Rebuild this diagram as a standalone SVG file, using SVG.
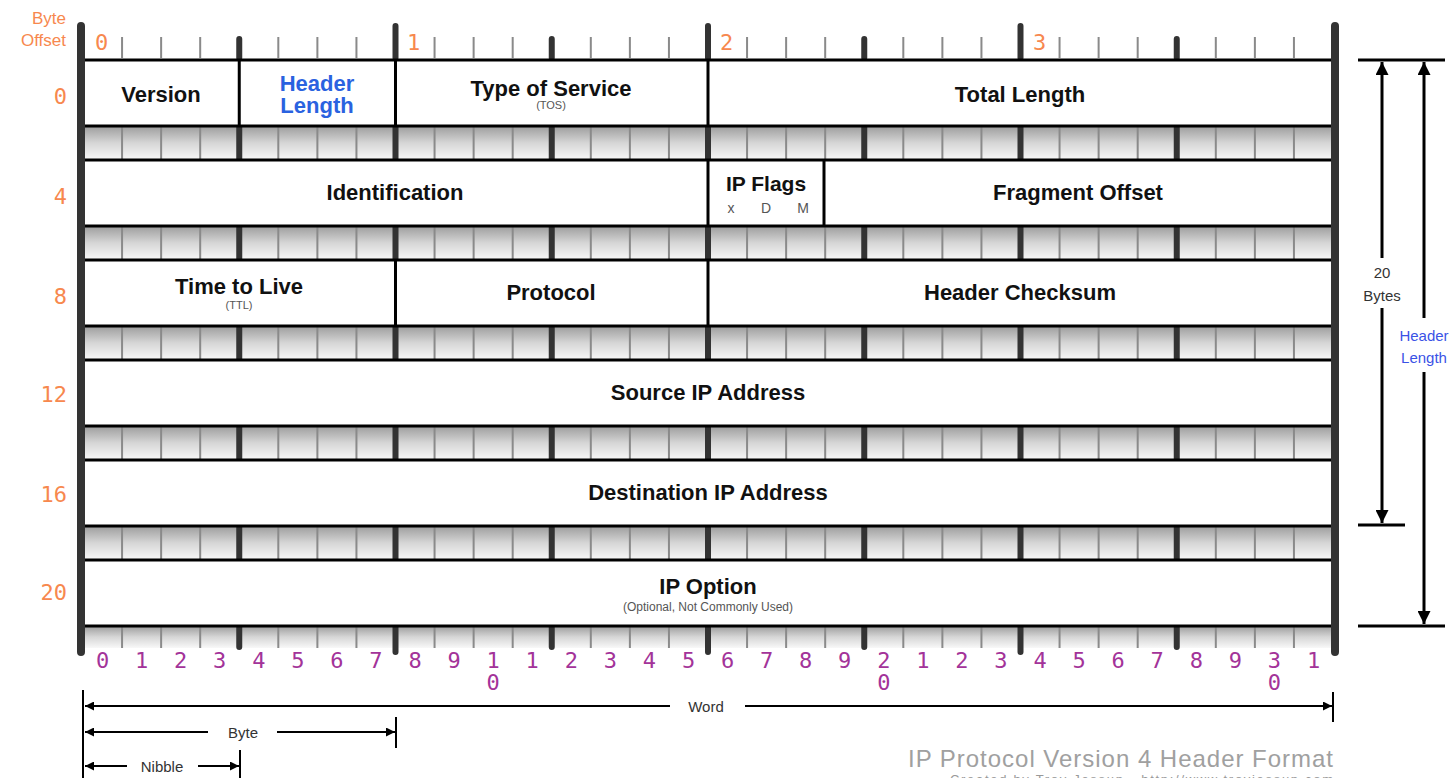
<svg xmlns="http://www.w3.org/2000/svg" width="1455" height="778" viewBox="0 0 1455 778">
<style>
.lbl{font-family:"Liberation Sans",Arial,sans-serif;font-weight:bold;font-size:22px;fill:#111;text-anchor:middle}
.blue{fill:#2a62e0}
.sub{font-family:"Liberation Sans",Arial,sans-serif;font-size:11px;fill:#555;text-anchor:middle}
.off{font-family:"DejaVu Sans Mono",monospace;font-size:22px;fill:#f7884e}
.bo{font-family:"Liberation Sans",Arial,sans-serif;font-size:17px;fill:#f7884e;text-anchor:end}
.bit{font-family:"DejaVu Sans Mono",monospace;font-size:22px;fill:#a33399;text-anchor:middle}
.cap{font-family:"Liberation Sans",Arial,sans-serif;font-size:15px;fill:#333;text-anchor:middle}
.box{fill:#fff;stroke:#000;stroke-width:3}
.div{stroke:#000;stroke-width:3}
.thin{stroke:#8a8a8a;stroke-width:2;fill:none}
.thick{stroke:#333;stroke-width:6;fill:none;stroke-linecap:round}
.bar{stroke:#333;stroke-width:8;fill:none;stroke-linecap:round}
.ln{stroke:#000;stroke-width:2;fill:none}
.ln3{stroke:#000;stroke-width:3;fill:none}
</style>
<defs>
<linearGradient id="fg" x1="0" y1="0" x2="0" y2="1">
<stop offset="0" stop-color="#9c9c9c"/>
<stop offset="0.5" stop-color="#d6d6d6"/>
<stop offset="1" stop-color="#f8f8f8"/>
</linearGradient>
<marker id="ah" viewBox="0 0 10 10" refX="10" refY="5" markerWidth="11" markerHeight="9" markerUnits="userSpaceOnUse" orient="auto"><path d="M0,0 L10,5 L0,10 z" fill="#000"/></marker>
<marker id="ahb" viewBox="0 0 10 10" refX="10" refY="5" markerWidth="15" markerHeight="13" markerUnits="userSpaceOnUse" orient="auto"><path d="M0,0 L10,5 L0,10 z" fill="#000"/></marker>
<g id="filler">
<rect x="83" y="0" width="1250" height="34" fill="url(#fg)"/>
<path class="thin" d="M122.06 0V34M161.13 0V34M200.19 0V34M278.31 0V34M317.38 0V34M356.44 0V34M434.56 0V34M473.63 0V34M512.69 0V34M590.81 0V34M629.88 0V34M668.94 0V34M747.06 0V34M786.13 0V34M825.19 0V34M903.31 0V34M942.38 0V34M981.44 0V34M1059.56 0V34M1098.63 0V34M1137.69 0V34M1215.81 0V34M1254.88 0V34M1293.94 0V34"/>
<path d="M239.25 0V34M395.5 0V34M551.75 0V34M708 0V34M864.25 0V34M1020.5 0V34M1176.75 0V34" stroke="#333" stroke-width="6"/>
</g>
</defs>

<g id="top-ruler">
<text class="bo" x="66" y="24">Byte</text>
<text class="bo" x="66" y="46">Offset</text>
<path class="thin" d="M122.06 37V58M161.13 37V58M200.19 37V58M278.31 37V58M317.38 37V58M356.44 37V58M434.56 37V58M473.63 37V58M512.69 37V58M590.81 37V58M629.88 37V58M668.94 37V58M747.06 37V58M786.13 37V58M825.19 37V58M903.31 37V58M942.38 37V58M981.44 37V58M1059.56 37V58M1098.63 37V58M1137.69 37V58M1215.81 37V58M1254.88 37V58M1293.94 37V58"/>
<path class="thick" d="M239.25 39V58M551.75 39V58M864.25 39V58M1176.75 39V58"/>
<path class="thick" d="M395.5 26V58M708 26V58M1020.5 26V58"/>
<text class="off" x="95" y="50">0</text>
<text class="off" x="407" y="50">1</text>
<text class="off" x="720" y="50">2</text>
<text class="off" x="1033" y="50">3</text>
</g>

<g id="fillers">
<use href="#filler" y="126"/>
<use href="#filler" y="226"/>
<use href="#filler" y="326"/>
<use href="#filler" y="426"/>
<use href="#filler" y="526"/>
</g>

<g id="bottom-ruler">
<rect x="83" y="626" width="1250" height="22" fill="url(#fg)"/>
<path class="thin" d="M122.06 626V648M161.13 626V648M200.19 626V648M278.31 626V648M317.38 626V648M356.44 626V648M434.56 626V648M473.63 626V648M512.69 626V648M590.81 626V648M629.88 626V648M668.94 626V648M747.06 626V648M786.13 626V648M825.19 626V648M903.31 626V648M942.38 626V648M981.44 626V648M1059.56 626V648M1098.63 626V648M1137.69 626V648M1215.81 626V648M1254.88 626V648M1293.94 626V648"/>
<path class="thick" d="M239.25 626V647M551.75 626V647M864.25 626V647M1176.75 626V647"/>
<path class="thick" d="M395.5 626V652M708 626V652M1020.5 626V652"/>
<g>
<text class="bit" x="102.5" y="668">0</text>
<text class="bit" x="141.6" y="668">1</text>
<text class="bit" x="180.7" y="668">2</text>
<text class="bit" x="219.7" y="668">3</text>
<text class="bit" x="258.8" y="668">4</text>
<text class="bit" x="297.8" y="668">5</text>
<text class="bit" x="336.9" y="668">6</text>
<text class="bit" x="375.9" y="668">7</text>
<text class="bit" x="415" y="668">8</text>
<text class="bit" x="454.1" y="668">9</text>
<text class="bit" x="493.2" y="668">1<tspan x="493.2" dy="22">0</tspan></text>
<text class="bit" x="532.2" y="668">1</text>
<text class="bit" x="571.3" y="668">2</text>
<text class="bit" x="610.3" y="668">3</text>
<text class="bit" x="649.4" y="668">4</text>
<text class="bit" x="688.5" y="668">5</text>
<text class="bit" x="727.5" y="668">6</text>
<text class="bit" x="766.6" y="668">7</text>
<text class="bit" x="805.7" y="668">8</text>
<text class="bit" x="844.7" y="668">9</text>
<text class="bit" x="883.8" y="668">2<tspan x="883.8" dy="22">0</tspan></text>
<text class="bit" x="922.8" y="668">1</text>
<text class="bit" x="961.9" y="668">2</text>
<text class="bit" x="1000.9" y="668">3</text>
<text class="bit" x="1040" y="668">4</text>
<text class="bit" x="1079.1" y="668">5</text>
<text class="bit" x="1118.2" y="668">6</text>
<text class="bit" x="1157.2" y="668">7</text>
<text class="bit" x="1196.3" y="668">8</text>
<text class="bit" x="1235.3" y="668">9</text>
<text class="bit" x="1274.4" y="668">3<tspan x="1274.4" dy="22">0</tspan></text>
<text class="bit" x="1313.5" y="668">1</text>
</g>
</g>

<g id="row-0">
<rect class="box" x="83" y="60" width="1250" height="66"/>
<path class="div" d="M239.25 60V126M395.5 60V126M708 60V126"/>
<text class="lbl" x="161" y="102">Version</text>
<text class="lbl blue" x="317" y="91">Header</text>
<text class="lbl blue" x="317" y="113">Length</text>
<text class="lbl" x="551" y="96">Type of Service</text>
<text class="sub" x="551" y="109">(TOS)</text>
<text class="lbl" x="1020" y="102">Total Length</text>
</g>

<g id="row-4">
<rect class="box" x="83" y="160" width="1250" height="66"/>
<path class="div" d="M708 160V226M824 160V226"/>
<text class="lbl" x="395" y="200">Identification</text>
<text class="lbl" x="766" y="191" style="font-size:21px">IP Flags</text>
<text class="sub" x="731" y="213" style="font-size:14px">x</text>
<text class="sub" x="766" y="213" style="font-size:14px">D</text>
<text class="sub" x="803" y="213" style="font-size:14px">M</text>
<text class="lbl" x="1078" y="200">Fragment Offset</text>
</g>

<g id="row-8">
<rect class="box" x="83" y="260" width="1250" height="66"/>
<path class="div" d="M395.5 260V326M708 260V326"/>
<text class="lbl" x="239" y="294">Time to Live</text>
<text class="sub" x="239" y="309">(TTL)</text>
<text class="lbl" x="551" y="300">Protocol</text>
<text class="lbl" x="1020" y="300">Header Checksum</text>
</g>

<g id="row-12">
<rect class="box" x="83" y="360" width="1250" height="66"/>
<text class="lbl" x="708" y="400">Source IP Address</text>
</g>

<g id="row-16">
<rect class="box" x="83" y="460" width="1250" height="66"/>
<text class="lbl" x="708" y="500">Destination IP Address</text>
</g>

<g id="row-20">
<rect class="box" x="83" y="560" width="1250" height="66"/>
<text class="lbl" x="708" y="594">IP Option</text>
<text class="sub" x="708" y="611" style="font-size:12px">(Optional, Not Commonly Used)</text>
</g>

<g id="side-bars">
<path class="bar" d="M81 26V652M1335 26V652"/>
</g>

<g id="row-offsets">
<text class="off" x="67" y="104" text-anchor="end">0</text>
<text class="off" x="67" y="204" text-anchor="end">4</text>
<text class="off" x="67" y="304" text-anchor="end">8</text>
<text class="off" x="67" y="402" text-anchor="end">12</text>
<text class="off" x="67" y="502" text-anchor="end">16</text>
<text class="off" x="67" y="600" text-anchor="end">20</text>
</g>

<g id="connectors">
<path class="ln3" d="M1358 60H1445M1358 525H1405M1358 626H1445"/>
<path class="ln3" d="M1382 258V62" marker-end="url(#ahb)"/>
<path class="ln3" d="M1382 308V523" marker-end="url(#ahb)"/>
<path class="ln3" d="M1424 318V62" marker-end="url(#ahb)"/>
<path class="ln3" d="M1424 372V624" marker-end="url(#ahb)"/>
<path class="ln" d="M83 690V778M1333 692V722M396 717V748M240 750V778"/>
<path class="ln" d="M670 706H85" marker-end="url(#ah)"/>
<path class="ln" d="M745 706H1332" marker-end="url(#ah)"/>
<path class="ln" d="M208 732H85" marker-end="url(#ah)"/>
<path class="ln" d="M277 732H395" marker-end="url(#ah)"/>
<path class="ln" d="M127 766H85" marker-end="url(#ah)"/>
<path class="ln" d="M198 766H239" marker-end="url(#ah)"/>
</g>

<g id="dimension-labels">
<text class="cap" x="1382" y="278">20</text>
<text class="cap" x="1382" y="301">Bytes</text>
<text class="cap" x="1424" y="341" style="fill:#3a52e6">Header</text>
<text class="cap" x="1424" y="363" style="fill:#3a52e6">Length</text>
<text class="cap" x="706" y="712">Word</text>
<text class="cap" x="243" y="738">Byte</text>
<text class="cap" x="162" y="772">Nibble</text>
</g>

<g id="title">
<text x="1333" y="767" text-anchor="end" textLength="425" lengthAdjust="spacing" style="font-family:'Liberation Sans',Arial,sans-serif;font-size:24px;fill:#a0a0a0">IP Protocol Version 4 Header Format</text>
<text x="1333" y="784" text-anchor="end" textLength="383" lengthAdjust="spacing" style="font-family:'Liberation Sans',Arial,sans-serif;font-size:13px;fill:#999">Created by Troy Jessup - http://www.troyjessup.com</text>
</g>
</svg>
